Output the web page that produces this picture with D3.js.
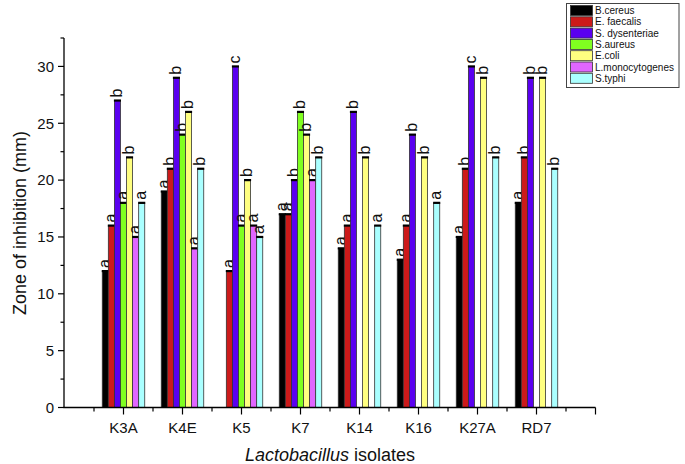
<!DOCTYPE html>
<html><head><meta charset="utf-8">
<script src="https://cdn.jsdelivr.net/npm/d3@7"></script>
<style>body{margin:0;background:#fff}svg{display:block;font-family:"Liberation Sans",Arial,sans-serif}</style>
</head><body><svg id="c" width="685" height="464"></svg>
<script>
const isolates = ["K3A","K4E","K5","K7","K14","K16","K27A","RD7"];
const pathogens = ["B.cereus","E. faecalis","S. dysenteriae","S.aureus","E.coli","L.monocytogenes","S.typhi"];
const colors = ["#000000","#cc1a1a","#5a00f0","#80ff20","#ffff80","#e066ff","#aaffff"];
const bCereus   = [12,19,null,17,14,13,15,18];
const eFaecalis = [16,21,12,17,16,16,21,22];
const sDysent   = [27,29,30,20,26,24,30,29];
const sAureus   = [18,24,16,26,null,null,null,null];
const eColi     = [22,26,20,24,22,22,29,29];
const lMono     = [15,14,16,20,null,null,null,null];
const sTyphi    = [18,21,15,22,16,18,22,21];
const lbCereus   = ["a","a",null,"a","a","a","a","a"];
const lbEFaecalis= ["a","b","a","a","a","a","b","b"];
const lbSDysent  = ["b","b","c","b","b","b","c","b"];
const lbSAureus  = ["a","b","a","b",null,null,null,null];
const lbEColi    = ["b","b","b","b","b","b","b","b"];
const lbLMono    = ["a","a","a","a",null,null,null,null];
const lbSTyphi   = ["a","b","a","b","a","a","b","b"];
const yTicks = [0,5,10,15,20,25,30];

const series = [bCereus,eFaecalis,sDysent,sAureus,eColi,lMono,sTyphi];
const letters = [lbCereus,lbEFaecalis,lbSDysent,lbSAureus,lbEColi,lbLMono,lbSTyphi];

const svg = d3.select("#c");
const x = d3.scaleLinear().domain([0,9]).range([64.5,595.5]);
const y = d3.scaleLinear().domain([0,32.5]).range([407.5,38]);
const unit = x(1)-x(0);
const inner = d3.scaleBand().domain(d3.range(pathogens.length)).range([-0.36*unit,0.36*unit]).padding(0);

const g = svg.append("g");
series.forEach((vals,si)=>{
  vals.forEach((v,ii)=>{
    if(v==null) return;
    const x0 = x(ii+1)+inner(si), w = inner.bandwidth();
    g.append("rect").attr("x",x0).attr("y",y(v)).attr("width",w).attr("height",y(0)-y(v))
      .attr("fill",colors[si]).attr("stroke","#333").attr("stroke-width",0.8);
    g.append("line").attr("x1",x0-0.5).attr("x2",x0+w+0.5).attr("y1",y(v)).attr("y2",y(v))
      .attr("stroke","#000").attr("stroke-width",2.2);
    const lb = letters[si][ii];
    if(lb){
      g.append("text").attr("transform",`translate(${x0+w/2+4.5},${y(v)-3}) rotate(-90)`)
        .attr("font-size",16).attr("fill","#111").text(lb);
    }
  });
});

// y axis
const ya = svg.append("g").attr("transform","translate(64,0)");
ya.append("line").attr("x1",0).attr("x2",0).attr("y1",y(32.5)).attr("y2",y(0)).attr("stroke","#000").attr("stroke-width",1.3);
d3.range(0,33,2.5).forEach(t=>{
  const major = t%5===0;
  ya.append("line").attr("x1",major?-6:-3.5).attr("x2",0).attr("y1",y(t)).attr("y2",y(t)).attr("stroke","#000").attr("stroke-width",1.2);
});
yTicks.forEach(t=>{
  ya.append("text").attr("x",-10).attr("y",y(t)).attr("dy","0.35em").attr("text-anchor","end")
    .attr("font-size",15).attr("fill","#111").text(t);
});
// x axis
const xa = svg.append("g").attr("transform",`translate(0,${y(0)})`);
xa.append("line").attr("x1",63.5).attr("x2",x(9)).attr("y1",0).attr("y2",0).attr("stroke","#000").attr("stroke-width",1.3);
d3.range(0.5,9.01,0.5).forEach(t=>{
  const major = Number.isInteger(t);
  xa.append("line").attr("x1",x(t)).attr("x2",x(t)).attr("y1",0).attr("y2",major?7:4).attr("stroke","#000").attr("stroke-width",1.2);
});
isolates.forEach((name,i)=>{
  xa.append("text").attr("x",x(i+1)).attr("y",20).attr("dy","0.35em").attr("text-anchor","middle")
    .attr("font-size",15).attr("fill","#111").text(name);
});
// titles
svg.append("text").attr("transform","translate(20,223) rotate(-90)").attr("text-anchor","middle").attr("dy","0.35em")
  .attr("font-size",18).attr("fill","#111").text("Zone of inhibition (mm)");
const xt = svg.append("text").attr("x",330).attr("y",455).attr("dy","0.35em").attr("text-anchor","middle").attr("font-size",18).attr("fill","#111");
xt.append("tspan").attr("font-style","italic").text("Lactobacillus");
xt.append("tspan").text(" isolates");
// legend
const lg = svg.append("g");
lg.append("rect").attr("x",566.5).attr("y",3.5).attr("width",112.5).attr("height",84).attr("fill","#fff").attr("stroke","#444").attr("stroke-width",1);
pathogens.forEach((p,i)=>{
  const yy = 5.5+i*11.3;
  lg.append("rect").attr("x",570.5).attr("y",yy).attr("width",22).attr("height",10).attr("fill",colors[i]).attr("stroke","#333").attr("stroke-width",0.8);
  lg.append("text").attr("x",595).attr("y",yy+5).attr("dy","0.35em").attr("font-size",10).attr("fill","#111").text(p);
});
</script></body></html>
